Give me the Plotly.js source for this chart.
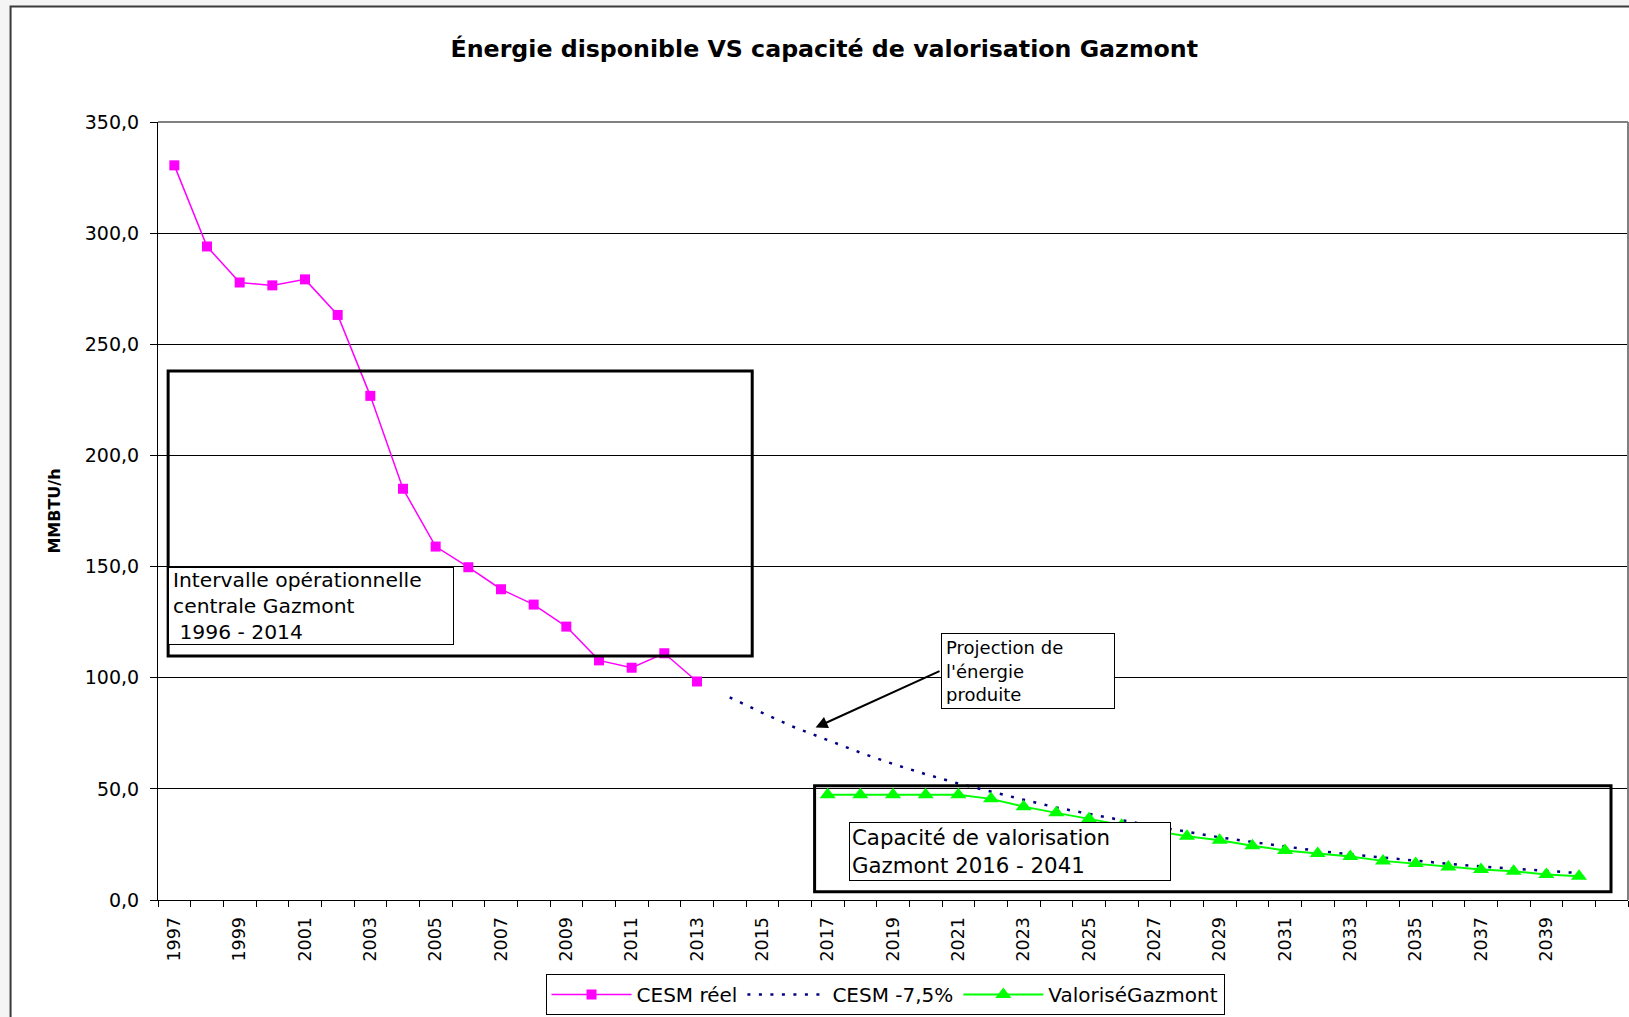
<!DOCTYPE html>
<html>
<head>
<meta charset="utf-8">
<script src="https://cdn.plot.ly/plotly-3.0.1.min.js"></script>
<style>
html,body{margin:0;padding:0;background:#f4f4f4;}
#chart{width:1629px;height:1017px;}
</style>
</head>
<body>
<div id="chart"></div>
<script>
// ---- Data ----
const yearsReel = [1997,1998,1999,2000,2001,2002,2003,2004,2005,2006,2007,2008,2009,2010,2011,2012,2013];
const cesmReel  = [330.5,294.0,277.8,276.5,279.2,263.2,226.8,185.0,159.0,149.7,139.8,132.9,123.0,107.8,104.5,111.0,98.3];

const yearsProj = [2014,2015,2016,2017,2018,2019,2020,2021,2022,2023,2024,2025,2026,2027,2028,2029,2030,2031,2032,2033,2034,2035,2036,2037,2038,2039,2040];
const cesmProj  = [91.2,84.2,77.6,71.8,66.3,61.2,56.6,52.4,48.6,45.1,41.6,38.6,35.9,33.2,30.7,28.2,26.1,24.0,22.1,20.5,19.0,17.6,16.3,15.1,14.0,13.0,12.1];

const yearsValo = [2017,2018,2019,2020,2021,2022,2023,2024,2025,2026,2027,2028,2029,2030,2031,2032,2033,2034,2035,2036,2037,2038,2039,2040];
const valoGazmont = [47.4,47.4,47.4,47.4,47.4,45.5,42.0,39.2,36.5,33.6,31.1,28.7,26.9,24.4,22.3,20.9,19.6,17.6,16.4,14.9,13.7,12.9,11.5,10.7];

const tickYears  = [1997,1999,2001,2003,2005,2007,2009,2011,2013,2015,2017,2019,2021,2023,2025,2027,2029,2031,2033,2035,2037,2039];
const tickLabels = ['1997','1999','2001','2003','2005','2007','2009','2011','2013','2015','2017','2019','2021','2023','2025','2027','2029','2031','2033','2035','2037','2039'];

const seriesNames = ['CESM réel', 'CESM -7,5%', 'ValoriséGazmont'];

// ---- Traces ----
const traces = [
  {
    x: yearsReel, y: cesmReel, name: seriesNames[0], type: 'scatter', mode: 'lines+markers',
    line: {color: '#FF00FF', width: 1.5},
    marker: {symbol: 'square', size: 10, color: '#FF00FF'}
  },
  {
    x: yearsProj, y: cesmProj, name: seriesNames[1], type: 'scatter', mode: 'lines',
    line: {color: '#000080', width: 2.5, dash: '3px,8.5px'}
  },
  {
    x: yearsValo, y: valoGazmont, name: seriesNames[2], type: 'scatter', mode: 'lines+markers',
    line: {color: '#00FF00', width: 2},
    marker: {symbol: 'triangle-up', size: 14, color: '#00FF00'}
  }
];

const FONT = 'DejaVu Sans';

const layout = {
  width: 1629, height: 1017,
  margin: {l: 158, r: 1, t: 122, b: 117},
  paper_bgcolor: '#f4f4f4',
  plot_bgcolor: '#c0c0c0',
  separators: ', ',
  font: {family: FONT, color: '#000'},
  showlegend: true,
  title: {
    text: 'Énergie disponible VS capacité de valorisation Gazmont',
    font: {family: FONT, size: 23.7, weight: 'bold', color: '#000'},
    xref: 'container', x: 0.506, xanchor: 'center',
    yref: 'container', y: 0.9518, yanchor: 'middle'
  },
  xaxis: {
    range: [1996.5, 2041.5],
    tickmode: 'array', tickvals: tickYears, ticktext: tickLabels,
    tickangle: -90, ticks: '',
    showgrid: false, zeroline: false,
    showline: true, linecolor: '#000', linewidth: 1,
    tickfont: {family: FONT, size: 17.5, color: '#000'},
    ticklabelstandoff: 9,
    minor: {ticks: 'outside', ticklen: 6, tickcolor: '#000', tickwidth: 1, tick0: 1996.5, dtick: 1, showgrid: false}
  },
  yaxis: {
    range: [0, 350], tick0: 0, dtick: 50, tickformat: '.1f',
    ticks: 'outside', ticklen: 7, tickcolor: '#000', tickwidth: 1,
    showgrid: true, gridcolor: '#000', gridwidth: 1,
    zeroline: false, showline: true, linecolor: '#000', linewidth: 1,
    tickfont: {family: FONT, size: 19, color: '#000'},
    ticklabelstandoff: 7,
    title: {text: 'MMBTU/h', font: {family: FONT, size: 16, weight: 'bold', color: '#000'}, standoff: 20}
  },
  legend: {
    orientation: 'h',
    xref: 'container', x: 0.5433, xanchor: 'center',
    yref: 'container', y: 1 - 974/1017, yanchor: 'top',
    bgcolor: '#ffffff', bordercolor: '#000', borderwidth: 1,
    font: {family: FONT, size: 20, color: '#000'},
    itemwidth: 80, traceorder: 'normal'
  },
  shapes: [
    // outer chart frame
    {type: 'rect', xref: 'paper', yref: 'paper', x0: -0.1003, x1: 1.3, y0: -0.6, y1: 1.1485,
     fillcolor: '#ffffff', line: {color: '#3a3a3a', width: 2}, layer: 'below'},
    // plot area border top/right
    {type: 'line', xref: 'paper', yref: 'paper', x0: 0, x1: 1, y0: 1, y1: 1, line: {color: '#808080', width: 2}},
    {type: 'line', xref: 'paper', yref: 'paper', x0: 1, x1: 1, y0: 0, y1: 1, line: {color: '#808080', width: 2}},
    // operational interval box
    {type: 'rect', xref: 'x', yref: 'y', x0: 1996.81, x1: 2014.69, y0: 109.8, y1: 238,
     line: {color: '#000', width: 3}, fillcolor: 'rgba(0,0,0,0)'},
    // valorisation capacity box
    {type: 'rect', xref: 'x', yref: 'y', x0: 2016.6, x1: 2040.98, y0: 3.7, y1: 51.4,
     line: {color: '#000', width: 3}, fillcolor: 'rgba(0,0,0,0)'}
  ],
  annotations: [
    {xref: 'x', yref: 'y', x: 1996.81, y: 149.6, xanchor: 'left', yanchor: 'top',
     text: 'Intervalle opérationnelle<br>centrale Gazmont<br>\u00a01996 - 2014', align: 'left', valign: 'middle',
     showarrow: false, bgcolor: '#fff', bordercolor: '#000', borderwidth: 1, borderpad: 4,
     width: 276, height: 68, font: {family: FONT, size: 20.3, color: '#000'}},
    {xref: 'x', yref: 'y', x: 2020.47, y: 119.9, xanchor: 'left', yanchor: 'top',
     text: 'Projection de<br>l\'énergie<br>produite', align: 'left', valign: 'middle',
     showarrow: false, bgcolor: '#fff', bordercolor: '#000', borderwidth: 1, borderpad: 4,
     width: 164, height: 66, font: {family: FONT, size: 18, color: '#000'}},
    {xref: 'x', yref: 'y', x: 2016.63, y: 77.6, axref: 'x', ayref: 'y', ax: 2020.47, ay: 103.3,
     text: '', showarrow: true, arrowhead: 2, arrowsize: 1.2, arrowwidth: 2, arrowcolor: '#000', standoff: 0, startstandoff: 0},
    {xref: 'x', yref: 'y', x: 2017.64, y: 35.0, xanchor: 'left', yanchor: 'top',
     text: 'Capacité de valorisation<br>Gazmont 2016 - 2041', align: 'left', valign: 'middle',
     showarrow: false, bgcolor: '#fff', bordercolor: '#000', borderwidth: 1, borderpad: 2,
     width: 316, height: 53, font: {family: FONT, size: 21.3, color: '#000'}}
  ]
};

Plotly.newPlot('chart', traces, layout, {displayModeBar: false, staticPlot: true});
</script>
</body>
</html>
